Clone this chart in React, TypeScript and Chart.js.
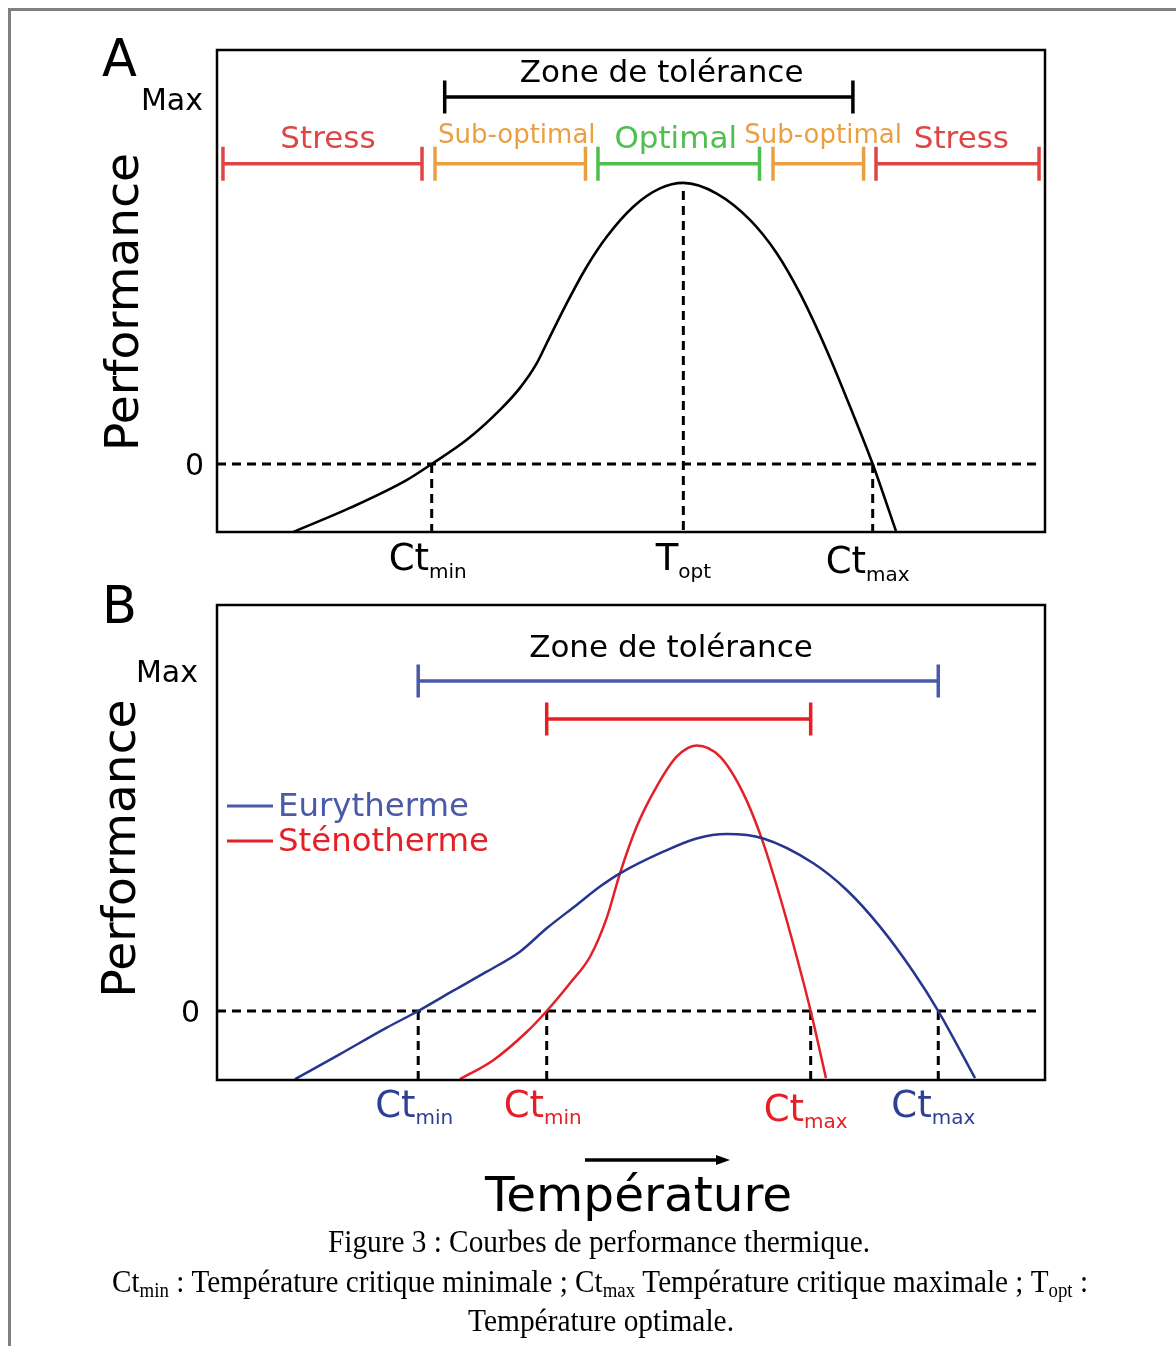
import React, { useEffect, useRef } from 'react';
import { Chart, registerables } from 'chart.js';

Chart.register(...registerables);

// ---------------- data ----------------
// Panel A : generic thermal performance curve
const A_TEMP = [9.18, 16.06, 22.9, 25.93, 30.16, 34.18, 36.59, 38.61, 39.82, 42.23, 44.65, 47.07, 50.28, 53.5, 56.32, 60.35, 64.37, 67.6, 70.41, 73.63, 76.45, 79.19, 82.0];
const A_PERF = [-18.6, -12.0, -4.4, 0, 6.6, 14.8, 20.8, 27.5, 33.0, 43.9, 53.9, 62.1, 70.3, 75.3, 76.8, 73.9, 66.7, 57.6, 46.6, 31.1, 15.7, 0, -18.3];
const A_CT_MIN = 25.93;
const A_T_OPT = 56.32;
const A_CT_MAX = 79.19;
const A_PEAK = 76.8;
const A_ZONE_LABELS = ['Stress', 'Sub-optimal', 'Optimal', 'Sub-optimal', 'Stress'];
const A_ZONE_START = [0.72, 26.33, 46.01, 67.15, 79.59];
const A_ZONE_END = [24.76, 44.5, 65.52, 78.09, 99.28];
const A_TOLERANCE = [27.5, 76.8];

// Panel B : eurytherm vs stenotherm
const SERIES_B = ['Eurytherme', 'Sténotherme'];
const B_EURY_TEMP = [9.42, 14.86, 20.5, 24.3, 28.54, 32.57, 36.59, 39.82, 43.44, 46.26, 48.67, 53.9, 57.93, 61.56, 65.98, 72.02, 76.05, 80.07, 84.09, 87.11, 91.55];
const B_EURY_PERF = [-20.1, -12.7, -4.9, 0, 6.0, 11.6, 17.5, 24.4, 31.3, 36.7, 40.6, 47.0, 50.9, 52.2, 50.9, 43.6, 35.7, 24.9, 11.6, 0, -19.8];
const B_STENO_TEMP = [29.35, 33.37, 37.4, 39.82, 42.63, 45.05, 47.06, 48.67, 50.69, 53.1, 55.52, 57.93, 60.75, 63.56, 65.78, 67.99, 70.01, 71.7, 73.55];
const B_STENO_PERF = [-20.1, -14.5, -6.2, 0, 8.2, 16.0, 27.4, 40.6, 54.4, 66.2, 75.0, 78.3, 75.0, 64.2, 50.9, 33.7, 16.0, 0, -19.8];
const B_EURY_CT = [24.3, 87.11];
const B_STENO_CT = [39.82, 71.7];

const Y_TICK_VALUES = [0, 100];
const Y_TICK_LABELS = ['0', 'Max'];

// ---------------- styles ----------------
const SANS = '"DejaVu Sans", Verdana, sans-serif';
const SERIF = '"Liberation Serif", "Times New Roman", serif';
const C_RED = '#e04545';
const C_ORANGE = '#eaa040';
const C_GREEN = '#4fbf4f';
const ZONE_COLORS = [C_RED, C_ORANGE, C_GREEN, C_ORANGE, C_RED];
const ZONE_SIZES = [31, 26, 31, 26, 31];
const ZONE_TEXT_UP = [16, 21, 16, 21, 16];
const ZONE_LABEL_X = [13.4, 36.2, 55.4, 73.2, 89.9];
const C_NAVY = '#26358e';
const C_BLUE_BAR = '#4a5aa8';
const C_BLUE_TEXT = '#2e3f95';
const C_STENO = '#e41f25';

type Ctx = CanvasRenderingContext2D;

function text(ctx: Ctx, s: string, x: number, y: number, size: number, color: string, align: CanvasTextAlign = 'center', family = SANS) {
  ctx.font = `${size}px ${family}`;
  ctx.fillStyle = color;
  ctx.textAlign = align;
  ctx.textBaseline = 'alphabetic';
  ctx.fillText(s, x, y);
}

function subLabel(ctx: Ctx, main: string, sub: string, cx: number, base: number, color: string, mainSize = 37, subSize = 20, drop = 8) {
  ctx.font = `${mainSize}px ${SANS}`;
  const w1 = ctx.measureText(main).width;
  ctx.font = `${subSize}px ${SANS}`;
  const w2 = ctx.measureText(sub).width;
  const x0 = cx - (w1 + w2) / 2;
  text(ctx, main, x0, base, mainSize, color, 'left');
  text(ctx, sub, x0 + w1, base + drop, subSize, color, 'left');
}

function rangeBar(ctx: Ctx, x1: number, x2: number, y: number, half: number, color: string, lw = 3.5) {
  ctx.save();
  ctx.strokeStyle = color;
  ctx.lineWidth = lw;
  ctx.lineCap = 'butt';
  ctx.beginPath();
  ctx.moveTo(x1, y); ctx.lineTo(x2, y);
  ctx.moveTo(x1, y - half); ctx.lineTo(x1, y + half);
  ctx.moveTo(x2, y - half); ctx.lineTo(x2, y + half);
  ctx.stroke();
  ctx.restore();
}

function dashed(ctx: Ctx, x1: number, y1: number, x2: number, y2: number) {
  ctx.save();
  ctx.strokeStyle = '#000';
  ctx.lineWidth = 3;
  ctx.setLineDash([9, 6]);
  ctx.beginPath();
  ctx.moveTo(x1, y1); ctx.lineTo(x2, y2);
  ctx.stroke();
  ctx.restore();
}

function box(ctx: Ctx, a: any) {
  ctx.save();
  ctx.strokeStyle = '#000';
  ctx.lineWidth = 2.5;
  ctx.strokeRect(a.left, a.top, a.right - a.left, a.bottom - a.top);
  ctx.restore();
}

function perfTitle(ctx: Ctx, x: number, cy: number) {
  ctx.save();
  ctx.translate(x, cy);
  ctx.rotate(-Math.PI / 2);
  text(ctx, 'Performance', 0, 0, 47, '#000');
  ctx.restore();
}

function yTicks(ctx: Ctx, chart: any, rightX: number[], dy: number[]) {
  const ys = chart.scales.y;
  Y_TICK_VALUES.forEach((v, i) => {
    text(ctx, Y_TICK_LABELS[i], rightX[i], ys.getPixelForValue(v) + dy[i], 30, '#000', 'right');
  });
}

const pts = (xs: number[], ys: number[]) => xs.map((x, i) => ({ x, y: ys[i] }));

const pluginA = {
  id: 'panelA',
  beforeDatasetsDraw(chart: any) {
    const { ctx, chartArea: a, scales: { x, y } } = chart;
    const y0 = y.getPixelForValue(0);
    dashed(ctx, a.left, y0, a.right - 8, y0);
    dashed(ctx, x.getPixelForValue(A_CT_MIN), y0, x.getPixelForValue(A_CT_MIN), a.bottom);
    dashed(ctx, x.getPixelForValue(A_CT_MAX), y0, x.getPixelForValue(A_CT_MAX), a.bottom);
    dashed(ctx, x.getPixelForValue(A_T_OPT), y.getPixelForValue(A_PEAK) + 8, x.getPixelForValue(A_T_OPT), a.bottom);
  },
  afterDraw(chart: any) {
    const { ctx, chartArea: a, scales: { x, y } } = chart;
    box(ctx, a);
    text(ctx, 'A', a.left - 115, a.top + 26, 51, '#000', 'left');
    yTicks(ctx, chart, [a.left - 13, a.left - 14], [11, 12]);
    perfTitle(ctx, a.left - 79, (a.top + a.bottom) / 2 + 11);
    // tolerance zone
    const yTol = y.getPixelForValue(100) - 1;
    rangeBar(ctx, x.getPixelForValue(A_TOLERANCE[0]), x.getPixelForValue(A_TOLERANCE[1]), yTol, 16.5, '#000');
    text(ctx, 'Zone de tolérance', x.getPixelForValue(53.7), yTol - 15, 31, '#000');
    // zones
    const yZone = y.getPixelForValue(82);
    A_ZONE_LABELS.forEach((lab, i) => {
      rangeBar(ctx, x.getPixelForValue(A_ZONE_START[i]), x.getPixelForValue(A_ZONE_END[i]), yZone, 17, ZONE_COLORS[i]);
      text(ctx, lab, x.getPixelForValue(ZONE_LABEL_X[i]), yZone - ZONE_TEXT_UP[i], ZONE_SIZES[i], ZONE_COLORS[i]);
    });
    // x labels
    subLabel(ctx, 'Ct', 'min', x.getPixelForValue(A_CT_MIN) - 4, a.bottom + 38, '#000');
    subLabel(ctx, 'T', 'opt', x.getPixelForValue(A_T_OPT), a.bottom + 38, '#000');
    subLabel(ctx, 'Ct', 'max', x.getPixelForValue(A_CT_MAX) - 5, a.bottom + 41, '#000');
  },
};

function captionLine(ctx: Ctx, parts: [string, boolean][], cx: number, base: number, target: number) {
  const main = 31, sub = 20;
  const widths = parts.map(([s, isSub]) => {
    ctx.font = `${isSub ? sub : main}px ${SERIF}`;
    return ctx.measureText(s).width;
  });
  const total = widths.reduce((p, c) => p + c, 0);
  const s = target / total;
  ctx.save();
  ctx.translate(cx - target / 2, base);
  ctx.scale(s, 1);
  let xx = 0;
  parts.forEach(([str, isSub], i) => {
    text(ctx, str, xx, isSub ? 5 : 0, isSub ? sub : main, '#000', 'left', SERIF);
    xx += widths[i];
  });
  ctx.restore();
}

const pluginB = {
  id: 'panelB',
  beforeDatasetsDraw(chart: any) {
    const { ctx, chartArea: a, scales: { x, y } } = chart;
    const y0 = y.getPixelForValue(0);
    dashed(ctx, a.left, y0, a.right - 8, y0);
    [...B_EURY_CT, ...B_STENO_CT].forEach((t) => {
      dashed(ctx, x.getPixelForValue(t), y0, x.getPixelForValue(t), a.bottom);
    });
  },
  afterDraw(chart: any) {
    const { ctx, chartArea: a, scales: { x, y } } = chart;
    box(ctx, a);
    text(ctx, 'B', a.left - 115, a.top + 18, 51, '#000', 'left');
    yTicks(ctx, chart, [a.left - 17, a.left - 19], [11, 10]);
    perfTitle(ctx, a.left - 82, (a.top + a.bottom) / 2 + 6);
    // tolerance bars
    const yBlue = y.getPixelForValue(97.35);
    const yRed = y.getPixelForValue(86.1);
    rangeBar(ctx, x.getPixelForValue(B_EURY_CT[0]), x.getPixelForValue(B_EURY_CT[1]), yBlue, 16.5, C_BLUE_BAR);
    rangeBar(ctx, x.getPixelForValue(B_STENO_CT[0]), x.getPixelForValue(B_STENO_CT[1]), yRed, 16.5, C_STENO);
    text(ctx, 'Zone de tolérance', x.getPixelForValue(54.83), yBlue - 24, 31, '#000');
    // legend
    const legend: [string, string, string, number][] = [
      [SERIES_B[0], C_BLUE_BAR, '#4b5aa6', 201],
      [SERIES_B[1], C_STENO, C_STENO, 236],
    ];
    legend.forEach(([lab, lc, tc, dy]) => {
      ctx.save();
      ctx.strokeStyle = lc;
      ctx.lineWidth = 3;
      ctx.beginPath();
      ctx.moveTo(a.left + 10, a.top + dy);
      ctx.lineTo(a.left + 56, a.top + dy);
      ctx.stroke();
      ctx.restore();
      text(ctx, lab, a.left + 61, a.top + dy + 10, 32.4, tc, 'left');
    });
    // x labels
    subLabel(ctx, 'Ct', 'min', x.getPixelForValue(B_EURY_CT[0]) - 4, a.bottom + 37, C_BLUE_TEXT, 37, 20, 7);
    subLabel(ctx, 'Ct', 'min', x.getPixelForValue(B_STENO_CT[0]) - 4, a.bottom + 37, C_STENO, 37, 20, 7);
    subLabel(ctx, 'Ct', 'max', x.getPixelForValue(B_STENO_CT[1]) - 5, a.bottom + 41, C_STENO, 37, 20, 7);
    subLabel(ctx, 'Ct', 'max', x.getPixelForValue(B_EURY_CT[1]) - 5, a.bottom + 37, C_BLUE_TEXT, 37, 20, 7);
    // temperature axis title + arrow
    const yArrow = a.bottom + 80;
    ctx.save();
    ctx.strokeStyle = '#000';
    ctx.fillStyle = '#000';
    ctx.lineWidth = 3.5;
    ctx.beginPath();
    ctx.moveTo(585, yArrow);
    ctx.lineTo(720, yArrow);
    ctx.stroke();
    ctx.beginPath();
    ctx.moveTo(730, yArrow);
    ctx.lineTo(716, yArrow - 5);
    ctx.lineTo(716, yArrow + 5);
    ctx.closePath();
    ctx.fill();
    ctx.restore();
    text(ctx, 'Température', 638.5, a.bottom + 131, 48.5, '#000');
    // caption
    captionLine(ctx, [['Figure 3 : Courbes de performance thermique.', false]], 599, a.bottom + 172, 542);
    captionLine(ctx, [
      ['Ct', false], ['min', true], [' : Température critique minimale ; Ct', false], ['max', true],
      [' Température critique maximale ; T', false], ['opt', true], [' :', false],
    ], 600, a.bottom + 212, 976);
    captionLine(ctx, [['Température optimale.', false]], 601, a.bottom + 251, 266);
  },
};

function baseOptions(yMin: number, yMax: number, padding: any) {
  return {
    responsive: false,
    animation: false as const,
    layout: { padding },
    plugins: { legend: { display: false }, tooltip: { enabled: false } },
    scales: {
      x: { type: 'linear' as const, min: 0, max: 100, display: false },
      y: { type: 'linear' as const, min: yMin, max: yMax, display: false },
    },
    elements: { point: { radius: 0 } },
  };
}

const lineStyle = (color: string, width: number) => ({
  borderColor: color,
  borderWidth: width,
  cubicInterpolationMode: 'monotone' as const,
  pointRadius: 0,
  fill: false,
});

export default function App() {
  const refA = useRef<HTMLCanvasElement>(null);
  const refB = useRef<HTMLCanvasElement>(null);

  useEffect(() => {
    const chartA = new Chart(refA.current!, {
      type: 'line',
      data: {
        datasets: [{ label: 'Performance', data: pts(A_TEMP, A_PERF), ...lineStyle('#000', 2.6) }],
      },
      options: baseOptions(-18.58, 113.11, { left: 217, top: 50, right: 131, bottom: 68 }) as any,
      plugins: [pluginA],
    });
    const chartB = new Chart(refB.current!, {
      type: 'line',
      data: {
        datasets: [
          { label: SERIES_B[0], data: pts(B_EURY_TEMP, B_EURY_PERF), ...lineStyle(C_NAVY, 2.5) },
          { label: SERIES_B[1], data: pts(B_STENO_TEMP, B_STENO_PERF), ...lineStyle(C_STENO, 2.5) },
        ],
      },
      options: baseOptions(-20.35, 119.76, { left: 217, top: 45, right: 131, bottom: 266 }) as any,
      plugins: [pluginB],
    });
    return () => {
      chartA.destroy();
      chartB.destroy();
    };
  }, []);

  return (
    <div style={{ position: 'absolute', left: 0, top: 0, width: 1176, height: 1346, overflow: 'hidden', background: '#fff' }}>
      <div style={{ position: 'absolute', left: 8, top: 8, width: 1200, height: 1400, borderTop: '3px solid #808080', borderLeft: '3px solid #808080' }} />
      <canvas ref={refA} width={1176} height={600} style={{ position: 'absolute', left: 0, top: 0 }} />
      <canvas ref={refB} width={1176} height={786} style={{ position: 'absolute', left: 0, top: 560 }} />
    </div>
  );
}
